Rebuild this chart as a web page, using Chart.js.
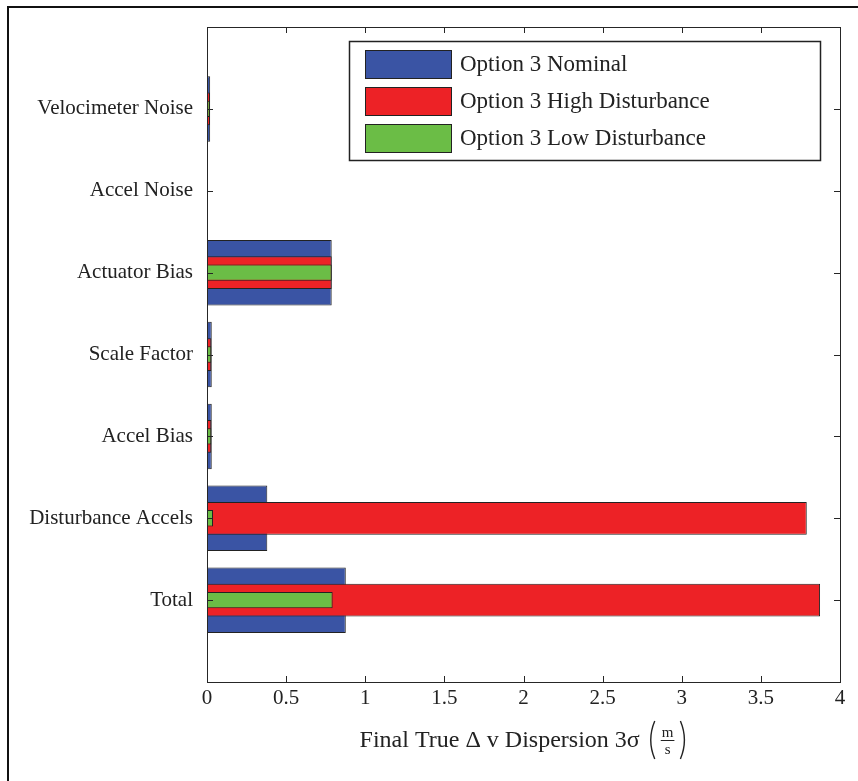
<!DOCTYPE html>
<html>
<head>
<meta charset="utf-8">
<script src="https://cdn.jsdelivr.net/npm/chart.js@4/dist/chart.umd.min.js"></script>
<style>
  html, body { margin: 0; padding: 0; background: #ffffff; }
  #wrap { width: 858px; height: 781px; position: relative; }
</style>
</head>
<body>
<div id="wrap"><canvas id="c" width="858" height="781"></canvas></div>
<script>
// Error sources, listed from the bottom of the axis upward (positions 1..7)
const categories = ['Total', 'Disturbance Accels', 'Accel Bias', 'Scale Factor',
                    'Actuator Bias', 'Accel Noise', 'Velocimeter Noise'];
const seriesNames = ['Option 3 Nominal', 'Option 3 High Disturbance', 'Option 3 Low Disturbance'];
// Final true delta-v dispersion, 3 sigma (m/s)
const nominal         = [0.877, 0.381, 0.030, 0.030, 0.788, 0.004, 0.020];
const highDisturbance = [3.874, 3.790, 0.027, 0.027, 0.788, 0.003, 0.019];
const lowDisturbance  = [0.794, 0.038, 0.027, 0.027, 0.788, 0.002, 0.018];
const xTickValues = [0, 0.5, 1, 1.5, 2, 2.5, 3, 3.5, 4];
const xTickLabels = ['0', '0.5', '1', '1.5', '2', '2.5', '3', '3.5', '4'];

const COLORS = ['#3a54a4', '#ed2226', '#6bbd46'];
const SERIF = "'Liberation Serif', 'DejaVu Serif', serif";

function points(values) {
  return values.map((v, i) => ({ x: v, y: i + 1 }));
}

// Axes box, inward tick marks, outer figure frame
const framePlugin = {
  id: 'frame',
  afterDatasetsDraw(chart) {
    const ctx = chart.ctx;
    const a = chart.chartArea;
    const xs = chart.scales.x, ys = chart.scales.y;
    ctx.save();
    ctx.strokeStyle = '#262626';
    ctx.lineWidth = 1;
    ctx.strokeRect(Math.round(a.left) + 0.5, Math.round(a.top) + 0.5,
                   Math.round(a.right - a.left), Math.round(a.bottom - a.top));
    const tl = 6;
    ctx.beginPath();
    xTickValues.forEach(v => {
      const px = Math.round(xs.getPixelForValue(v)) + 0.5;
      ctx.moveTo(px, a.bottom); ctx.lineTo(px, a.bottom - tl);
      ctx.moveTo(px, a.top); ctx.lineTo(px, a.top + tl);
    });
    categories.forEach((c, i) => {
      const py = Math.round(ys.getPixelForValue(i + 1)) + 0.5;
      ctx.moveTo(a.left, py); ctx.lineTo(a.left + tl, py);
      ctx.moveTo(a.right, py); ctx.lineTo(a.right - tl, py);
    });
    ctx.stroke();
    ctx.restore();
  },
  afterDraw(chart) {
    const ctx = chart.ctx;
    ctx.save();
    ctx.strokeStyle = '#111';
    ctx.lineWidth = 2;
    ctx.beginPath();
    ctx.moveTo(8, chart.height); ctx.lineTo(8, 7); ctx.lineTo(chart.width, 7);
    ctx.stroke();
    ctx.restore();
  }
};

// Legend box drawn inside the upper right of the axes
const boxLegendPlugin = {
  id: 'boxLegend',
  afterDraw(chart) {
    const ctx = chart.ctx;
    const x0 = 349, y0 = 41, w = 471, h = 119;
    ctx.save();
    ctx.fillStyle = '#ffffff';
    ctx.fillRect(x0, y0, w, h);
    ctx.strokeStyle = '#222';
    ctx.lineWidth = 1.5;
    ctx.strokeRect(x0 + 0.5, y0 + 0.5, w, h);
    ctx.font = '23px ' + SERIF;
    ctx.textBaseline = 'middle';
    ctx.textAlign = 'left';
    chart.data.datasets.forEach((ds, i) => {
      const sy = 50 + i * 37;
      ctx.fillStyle = ds.backgroundColor;
      ctx.fillRect(365, sy, 86, 28);
      ctx.strokeStyle = '#222';
      ctx.lineWidth = 1;
      ctx.strokeRect(365.5, sy + 0.5, 86, 28);
      ctx.fillStyle = '#222';
      ctx.fillText(ds.label, 460, sy + 15);
    });
    ctx.restore();
  }
};

// X axis title with a stacked m/s unit fraction
const xTitlePlugin = {
  id: 'xTitle',
  afterDraw(chart) {
    const ctx = chart.ctx;
    const a = chart.chartArea;
    const main = 'Final True \u0394 v Dispersion 3\u03c3';
    ctx.save();
    ctx.fillStyle = '#222';
    ctx.font = '24px ' + SERIF;
    const mw = ctx.measureText(main).width;
    ctx.font = '15px ' + SERIF;
    const fw = Math.max(ctx.measureText('m').width, ctx.measureText('s').width) + 2;
    const parenW = 9;
    const total = mw + 8 + parenW + 4 + fw + 4 + parenW;
    let x = (a.left + a.right) / 2 - total / 2;
    const base = 747;
    ctx.font = '24px ' + SERIF;
    ctx.textBaseline = 'alphabetic';
    ctx.textAlign = 'left';
    ctx.fillText(main, x, base);
    x += mw + 8;
    // tall parentheses
    const midY = 740;
    ctx.strokeStyle = '#222';
    ctx.lineWidth = 1.4;
    ctx.beginPath();
    ctx.moveTo(x + parenW - 2, midY - 19);
    ctx.quadraticCurveTo(x - 1, midY, x + parenW - 2, midY + 19);
    ctx.stroke();
    x += parenW + 4;
    ctx.font = '15px ' + SERIF;
    ctx.textAlign = 'center';
    ctx.fillText('m', x + fw / 2, midY - 3);
    ctx.beginPath();
    ctx.lineWidth = 1;
    ctx.moveTo(x, midY + 0.5); ctx.lineTo(x + fw, midY + 0.5);
    ctx.stroke();
    ctx.textBaseline = 'top';
    ctx.fillText('s', x + fw / 2, midY + 3);
    x += fw + 4;
    ctx.lineWidth = 1.4;
    ctx.beginPath();
    ctx.moveTo(x + 2, midY - 19);
    ctx.quadraticCurveTo(x + parenW + 1, midY, x + 2, midY + 19);
    ctx.stroke();
    ctx.restore();
  }
};

const seriesValues = [nominal, highDisturbance, lowDisturbance];
const barFractions = [0.8, 0.4, 0.2];

new Chart(document.getElementById('c'), {
  type: 'bar',
  data: {
    datasets: seriesValues.map((vals, i) => ({
      label: seriesNames[i],
      data: points(vals),
      backgroundColor: COLORS[i],
      borderColor: '#222',
      borderWidth: 1,
      borderSkipped: false,
      grouped: false,
      categoryPercentage: 1,
      barPercentage: barFractions[i],
      order: 3 - i
    }))
  },
  options: {
    indexAxis: 'y',
    responsive: false,
    animation: false,
    devicePixelRatio: 1,
    layout: { padding: { top: 27, right: 18, left: 0, bottom: 0 } },
    plugins: { legend: { display: false }, tooltip: { enabled: false } },
    scales: {
      x: {
        type: 'linear',
        min: 0, max: 4,
        offset: false,
        grid: { display: false, drawTicks: false },
        border: { display: false },
        afterBuildTicks(scale) { scale.ticks = xTickValues.map(v => ({ value: v })); },
        afterFit(scale) { scale.height = 99; },
        ticks: {
          padding: 4,
          color: '#222',
          font: { family: SERIF, size: 21 },
          maxRotation: 0,
          autoSkip: false,
          callback: (v) => xTickLabels[xTickValues.indexOf(v)] ?? ''
        }
      },
      y: {
        type: 'linear',
        min: 0, max: 8,
        offset: false,
        grid: { display: false, drawTicks: false, offset: false },
        border: { display: false },
        afterBuildTicks(scale) { scale.ticks = categories.map((c, i) => ({ value: i + 1 })); },
        afterFit(scale) { scale.width = 207; },
        ticks: {
          padding: 14,
          color: '#222',
          font: { family: SERIF, size: 21 },
          autoSkip: false,
          callback: (v) => categories[v - 1] ?? ''
        }
      }
    }
  },
  plugins: [framePlugin, boxLegendPlugin, xTitlePlugin]
});
</script>
</body>
</html>
